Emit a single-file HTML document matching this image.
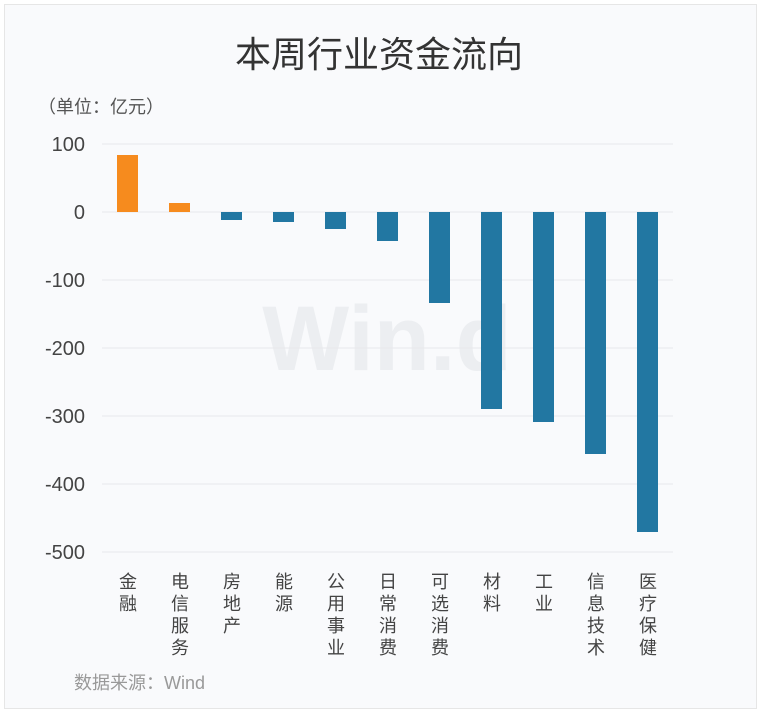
<!DOCTYPE html><html><head><meta charset="utf-8"><style>
body{margin:0;background:#fff;width:763px;height:715px;overflow:hidden;font-family:"Liberation Sans","Noto Sans CJK SC",sans-serif}
</style></head><body>
<svg width="763" height="715" xmlns="http://www.w3.org/2000/svg" font-family="Liberation Sans, Noto Sans CJK SC, sans-serif">
<rect x="4.5" y="4.5" width="752" height="704" fill="#f9fafc" stroke="#e6e6e6"/>
<text x="379" y="67" font-size="36" fill="#333" text-anchor="middle">本周行业资金流向</text>
<text x="38" y="113" font-size="18" fill="#555">（单位：亿元）</text>
<text x="387" y="370" font-size="92" font-weight="bold" fill="#eceef1" text-anchor="middle">Win.d</text>
<g stroke="#e8e8ec" stroke-width="1">
<line x1="102" x2="673" y1="144" y2="144"/><line x1="102" x2="673" y1="212" y2="212"/>
<line x1="102" x2="673" y1="280" y2="280"/><line x1="102" x2="673" y1="348" y2="348"/>
<line x1="102" x2="673" y1="416" y2="416"/><line x1="102" x2="673" y1="484" y2="484"/>
<line x1="102" x2="673" y1="552" y2="552"/></g>
<g font-size="20" fill="#444" text-anchor="end">
<text x="85" y="151">100</text><text x="85" y="219">0</text><text x="85" y="287">-100</text>
<text x="85" y="355">-200</text><text x="85" y="423">-300</text><text x="85" y="491">-400</text><text x="85" y="559">-500</text></g>
<g fill="#f68b1e"><rect x="117" y="155" width="21" height="57"/><rect x="169" y="203" width="21" height="9"/></g>
<g fill="#2277a2">
<rect x="221" y="212" width="21" height="8"/><rect x="273" y="212" width="21" height="10"/>
<rect x="325" y="212" width="21" height="17"/><rect x="377" y="212" width="21" height="29"/>
<rect x="429" y="212" width="21" height="91"/><rect x="481" y="212" width="21" height="197"/>
<rect x="533" y="212" width="21" height="210"/><rect x="585" y="212" width="21" height="242"/>
<rect x="637" y="212" width="21" height="320"/></g>
<g font-size="18" fill="#444" text-anchor="middle">
<text x="128" y="588">金</text><text x="128" y="610">融</text>
<text x="180" y="588">电</text><text x="180" y="610">信</text><text x="180" y="632">服</text><text x="180" y="654">务</text>
<text x="232" y="588">房</text><text x="232" y="610">地</text><text x="232" y="632">产</text>
<text x="284" y="588">能</text><text x="284" y="610">源</text>
<text x="336" y="588">公</text><text x="336" y="610">用</text><text x="336" y="632">事</text><text x="336" y="654">业</text>
<text x="388" y="588">日</text><text x="388" y="610">常</text><text x="388" y="632">消</text><text x="388" y="654">费</text>
<text x="440" y="588">可</text><text x="440" y="610">选</text><text x="440" y="632">消</text><text x="440" y="654">费</text>
<text x="492" y="588">材</text><text x="492" y="610">料</text>
<text x="544" y="588">工</text><text x="544" y="610">业</text>
<text x="596" y="588">信</text><text x="596" y="610">息</text><text x="596" y="632">技</text><text x="596" y="654">术</text>
<text x="648" y="588">医</text><text x="648" y="610">疗</text><text x="648" y="632">保</text><text x="648" y="654">健</text></g>
<text x="74" y="689" font-size="18" fill="#999">数据来源：Wind</text>
</svg></body></html>
